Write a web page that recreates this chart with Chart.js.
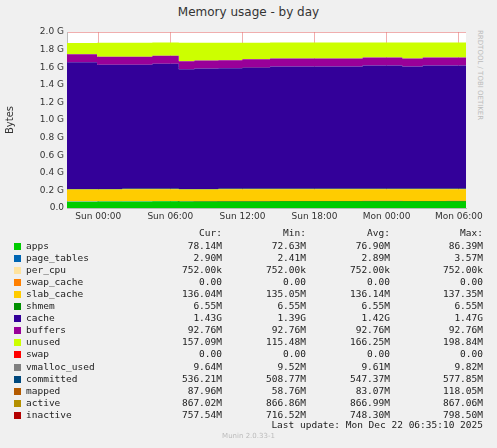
<!DOCTYPE html>
<html><head><meta charset="utf-8">
<script src="https://cdn.jsdelivr.net/npm/chart.js@4/dist/chart.umd.min.js"></script>
<style>
body{margin:0;background:#f0f0f0;width:497px;height:448px;position:relative;overflow:hidden;font-family:"DejaVu Sans Mono",monospace;font-size:9.5px;color:#222}
#wrap{position:absolute;left:0;top:0;width:497px;height:230px}
.t{position:absolute;white-space:pre}
.sq{position:absolute;width:7px;height:7px}
</style></head><body>
<div class="t" style="left:0;width:497px;text-align:center;top:5px;font-family:'DejaVu Sans';font-size:12px;color:#333">Memory usage - by day</div>
<div class="t" style="left:476px;top:30px;writing-mode:vertical-rl;font-family:'DejaVu Sans';font-size:7px;color:#bbb">RRDTOOL / TOBI OETIKER</div>
<div id="wrap"><canvas id="c" width="497" height="230"></canvas></div>
<div id="legend"></div>
<div class="t" style="right:14px;top:419px">Last update: Mon Dec 22 06:35:10 2025</div>
<div class="t" style="left:0;width:497px;text-align:center;top:432px;font-family:'DejaVu Sans';font-size:7px;color:#bbb">Munin 2.0.33-1</div>
<script>
// hours relative to Sun 00:00
const hours      = [-2.6, -0.1, 2, 4.5, 6.7, 8, 10, 12, 14.3, 16, 18, 20, 22, 24, 25.3, 27, 29, 30.6];
const apps       = [0.072,0.074,0.075,0.076,0.075,0.074,0.075,0.075,0.076,0.076,0.076,0.076,0.077,0.077,0.076,0.076,0.077,0.077];
const pageTables = [0.003,0.003,0.003,0.003,0.003,0.003,0.003,0.003,0.003,0.003,0.003,0.003,0.003,0.003,0.003,0.003,0.003,0.003];
const perCpu     = [0.001,0.001,0.001,0.001,0.001,0.001,0.001,0.001,0.001,0.001,0.001,0.001,0.001,0.001,0.001,0.001,0.001,0.001];
const swapCache  = [0,0,0,0,0,0,0,0,0,0,0,0,0,0,0,0,0,0];
const slabCache  = [0.133,0.133,0.133,0.133,0.132,0.132,0.133,0.133,0.133,0.133,0.133,0.133,0.133,0.133,0.133,0.133,0.133,0.133];
const shmem      = [0.006,0.006,0.006,0.006,0.006,0.006,0.006,0.006,0.006,0.006,0.006,0.006,0.006,0.006,0.006,0.006,0.006,0.006];
const cache      = [1.44,1.41,1.41,1.42,1.36,1.37,1.37,1.38,1.39,1.39,1.39,1.39,1.40,1.40,1.39,1.40,1.40,1.40];
const buffers    = [0.091,0.091,0.091,0.091,0.091,0.091,0.091,0.091,0.091,0.091,0.091,0.091,0.091,0.091,0.091,0.091,0.091,0.091];
const unused     = [0.13,0.16,0.16,0.15,0.21,0.20,0.20,0.19,0.18,0.18,0.18,0.18,0.17,0.17,0.18,0.17,0.17,0.17];
const swap       = [0,0,0,0,0,0,0,0,0,0,0,0,0,0,0,0,0,0];
const vmalloc    = [0.009,0.009,0.009,0.009,0.009,0.009,0.009,0.009,0.009,0.009,0.009,0.009,0.009,0.009,0.009,0.009,0.009,0.009];
const committed  = [0.508,0.50,0.505,0.51,0.545,0.545,0.55,0.545,0.545,0.545,0.55,0.545,0.545,0.545,0.50,0.505,0.505,0.505];
const mapped     = [0.09,0.095,0.095,0.105,0.063,0.065,0.07,0.07,0.07,0.07,0.07,0.07,0.08,0.08,0.08,0.08,0.08,0.085];
const active     = [0.847,0.847,0.847,0.847,0.847,0.847,0.847,0.847,0.847,0.847,0.847,0.847,0.847,0.847,0.847,0.847,0.847,0.847];
const inactive   = [0.76,0.73,0.73,0.74,0.685,0.69,0.69,0.69,0.705,0.71,0.71,0.715,0.72,0.72,0.72,0.72,0.72,0.73];
const yTicks = [0,0.2,0.4,0.6,0.8,1.0,1.2,1.4,1.6,1.8,2.0];
const xTicks = [0,6,12,18,24,30];
const xLabels = ["Sun 00:00","Sun 06:00","Sun 12:00","Sun 18:00","Mon 00:00","Mon 06:00"];

const legendRows = [
  ["apps","#00CC00","78.14M","72.63M","76.90M","86.39M"],
  ["page_tables","#0066B3","2.90M","2.41M","2.89M","3.57M"],
  ["per_cpu","#FFE39E","752.00k","752.00k","752.00k","752.00k"],
  ["swap_cache","#FF8000","0.00","0.00","0.00","0.00"],
  ["slab_cache","#FFCC00","136.04M","135.05M","136.14M","137.35M"],
  ["shmem","#008F00","6.55M","6.55M","6.55M","6.55M"],
  ["cache","#330099","1.43G","1.39G","1.42G","1.47G"],
  ["buffers","#990099","92.76M","92.76M","92.76M","92.76M"],
  ["unused","#CCFF00","157.09M","115.48M","166.25M","198.84M"],
  ["swap","#FF0000","0.00","0.00","0.00","0.00"],
  ["vmalloc_used","#808080","9.64M","9.52M","9.61M","9.82M"],
  ["committed","#00487D","536.21M","508.77M","547.37M","577.85M"],
  ["mapped","#B35A00","87.96M","58.76M","83.07M","118.05M"],
  ["active","#B38F00","867.02M","866.86M","866.99M","867.06M"],
  ["inactive","#B30000","757.54M","716.52M","748.30M","798.50M"]
];

const series = [apps,pageTables,perCpu,swapCache,slabCache,shmem,cache,buffers,unused,swap,vmalloc,committed,mapped,active,inactive];
const pts = arr => arr.map((v,i) => ({x: hours[i], y: v}));
const datasets = series.map((arr,i) => {
  const area = i < 9;
  return {
    label: legendRows[i][0], data: pts(arr), stepped: true, pointRadius: 0,
    borderColor: legendRows[i][1], backgroundColor: legendRows[i][1],
    borderWidth: area ? 0 : 2, fill: area ? (i === 0 ? "origin" : "-1") : false,
    stack: area ? "mem" : "l" + i
  };
});

new Chart(document.getElementById("c"), {
  type: "line",
  data: { datasets },
  options: {
    responsive: false, animation: false,
    layout: { padding: { top: 32, right: 31, left: 0, bottom: 0 } },
    plugins: { legend: { display: false }, tooltip: { enabled: false } },
    scales: {
      x: { type: "linear", min: -2.6, max: 30.6,
        afterBuildTicks: a => { a.ticks = xTicks.map(v => ({value: v})); },
        afterFit: a => { a.height = 22; },
        ticks: { callback: (v) => xLabels[xTicks.indexOf(v)], color: "#333", font: {family: "DejaVu Sans", size: 9}, maxRotation: 0 },
        grid: { color: "rgba(230,120,120,0.6)", borderDash: [1,2], drawTicks: false }, border: { color: "#bbb" } },
      y: { stacked: true, min: 0, max: 2.0,
        afterBuildTicks: a => { a.ticks = yTicks.map(v => ({value: v})); },
        afterFit: a => { a.width = 67; },
        title: { display: true, text: "Bytes", color: "#333", font: {family: "DejaVu Sans", size: 10} },
        ticks: { callback: v => v === 0 ? "0.0" : v.toFixed(1) + " G", color: "#333", font: {family: "DejaVu Sans", size: 9} },
        grid: { color: "rgba(230,120,120,0.6)", borderDash: [1,2], drawTicks: false }, border: { color: "#bbb" } }
    }
  },
  plugins: [{ id: "bg", beforeDraw(ch) { const a = ch.chartArea, c = ch.ctx; c.save(); c.fillStyle = "#fff"; c.fillRect(a.left, a.top, a.right - a.left, a.bottom - a.top); c.restore(); } }]
});

const lg = document.getElementById("legend");
let html = '';
[["Cur:",222],["Min:",306],["Avg:",390],["Max:",483]].forEach(([h,r]) => html += `<div class="t" style="right:${497-r}px;top:227px">${h}</div>`);
legendRows.forEach((row,i) => {
  const top = 240 + i * 12.05;
  html += `<div class="sq" style="left:14px;top:${top+3}px;background:${row[1]}"></div>`;
  html += `<div class="t" style="left:26px;top:${top}px">${row[0]}</div>`;
  [222,306,390,483].forEach((r,k) => html += `<div class="t" style="right:${497-r}px;top:${top}px">${row[k+2]}</div>`);
});
lg.innerHTML = html;
</script>
</body></html>
